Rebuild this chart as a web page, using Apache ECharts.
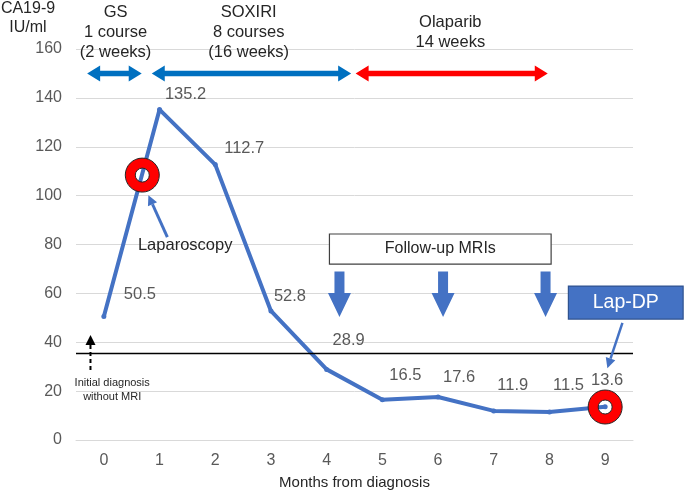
<!DOCTYPE html>
<html>
<head>
<meta charset="utf-8">
<script src="https://cdn.jsdelivr.net/npm/echarts@6/dist/echarts.min.js"></script>
<style>
  html, body { margin: 0; padding: 0; background: #fff; }
  #chart { width: 685px; height: 498px; }
</style>
</head>
<body>
<div id="chart"></div>
<script>
// data
const months = ['0', '1', '2', '3', '4', '5', '6', '7', '8', '9']
const ca199 = [50.5, 135.2, 112.7, 52.8, 28.9, 16.5, 17.6, 11.9, 11.5, 13.6]
const yMin = 0
const yMax = 160
const yStep = 20
const cutoff = 35.5

// treatment periods (month from, month to)
const gsSpan = [-0.3, 0.68]
const soxiriSpan = [0.86, 4.44]
const olaparibSpan = [4.52, 7.97]
const mriMonths = [4.23, 6.09, 7.93]

// label offsets (px) for each data label
const labelOffsets = [[36, -22], [26, -15], [29, -16], [19, -15], [22, -29],
  [23, -24], [21, -20], [19, -25], [19, -26], [2, -26]]

const FONT = '"Liberation Sans", Arial, sans-serif'
const LINE_BLUE = '#4472C4'
const chart = echarts.init(document.getElementById('chart'))

chart.setOption({
  animation: false,
  grid: { left: 76, right: 52, top: 49, bottom: 58 },
  xAxis: {
    type: 'category',
    data: months,
    name: 'Months from diagnosis',
    nameLocation: 'middle',
    nameGap: 35,
    nameTextStyle: { fontFamily: FONT, fontSize: 15, color: '#262626' },
    axisLine: { lineStyle: { color: '#D9D9D9' } },
    axisTick: { show: false },
    axisLabel: { fontFamily: FONT, fontSize: 16, color: '#595959', margin: 13 },
  },
  yAxis: {
    type: 'value',
    min: yMin,
    max: yMax,
    interval: yStep,
    axisLine: { show: false },
    axisTick: { show: false },
    axisLabel: { fontFamily: FONT, fontSize: 16, color: '#595959', margin: 14 },
    splitLine: { lineStyle: { color: '#D9D9D9' } },
  },
  series: [
    {
      type: 'line',
      data: ca199.map((v, i) => ({
        value: v,
        label: { offset: labelOffsets[i] },
      })),
      symbol: 'circle',
      symbolSize: 5,
      lineStyle: { color: LINE_BLUE, width: 4 },
      itemStyle: { color: LINE_BLUE },
      label: {
        show: true,
        position: 'inside',
        fontFamily: FONT,
        fontSize: 16.5,
        color: '#595959',
      },
      markLine: {
        silent: true,
        symbol: 'none',
        label: { show: false },
        lineStyle: { color: '#000', width: 1.3, type: 'solid' },
        data: [{ yAxis: cutoff }],
      },
      z: 3,
    },
  ],
})

// helpers to place annotations in data space
const x0 = chart.convertToPixel({ xAxisIndex: 0 }, '0')
const x9 = chart.convertToPixel({ xAxisIndex: 0 }, '9')
const X = (m) => x0 + (x9 - x0) * m / 9
const Y = (v) => chart.convertToPixel({ yAxisIndex: 0 }, v)

function doubleArrow(span, y, color) {
  const a = X(span[0]), b = X(span[1]), yy = Y(y)
  const t = 2.7, hl = 13, hw = 8
  return {
    type: 'polygon', z: 50,
    shape: { points: [[a, yy], [a + hl, yy - hw], [a + hl, yy - t], [b - hl, yy - t], [b - hl, yy - hw],
      [b, yy], [b - hl, yy + hw], [b - hl, yy + t], [a + hl, yy + t], [a + hl, yy + hw]] },
    style: { fill: color },
  }
}

function blockDown(m, top, tip) {
  const c = X(m), y1 = Y(top), y3 = Y(tip), y2 = y3 - 24
  return {
    type: 'polygon', z: 50,
    shape: { points: [[c - 5, y1], [c + 5, y1], [c + 5, y2], [c + 11.5, y2], [c, y3],
      [c - 11.5, y2], [c - 5, y2]] },
    style: { fill: LINE_BLUE },
  }
}

function thinArrow(from, to, color, width, dashed) {
  const ax = X(from[0]), ay = Y(from[1]), bx = X(to[0]), by = Y(to[1])
  const len = Math.hypot(bx - ax, by - ay)
  const ux = (bx - ax) / len, uy = (by - ay) / len
  const hl = 10, hw = 5
  const baseX = bx - ux * hl, baseY = by - uy * hl
  return [
    {
      type: 'line', z: 50,
      shape: { x1: ax, y1: ay, x2: baseX, y2: baseY },
      style: { stroke: color, lineWidth: width, lineDash: dashed ? [4, 3] : null },
    },
    {
      type: 'polygon', z: 50,
      shape: { points: [[bx, by], [baseX - uy * hw, baseY + ux * hw], [baseX + uy * hw, baseY - ux * hw]] },
      style: { fill: color },
    },
  ]
}

function text(str, x, y, size, color, lineHeight) {
  return {
    type: 'text', z: 60, x: x, y: y,
    style: { text: str, font: size + 'px ' + FONT, fill: color, align: 'center',
      verticalAlign: 'middle', lineHeight: lineHeight || size + 3 },
  }
}

function ring(m, v) {
  return {
    type: 'ring', z: 55,
    shape: { cx: X(m), cy: Y(v), r: 17, r0: 7 },
    style: { fill: '#FF0000', stroke: '#262626', lineWidth: 1 },
  }
}

const graphics = []
// header texts
graphics.push(text('CA19-9\nIU/ml', 28, 18, 16, '#262626', 19))
graphics.push(text('GS\n1 course\n(2 weeks)', X(0.21), 32, 16.5, '#262626', 20))
graphics.push(text('SOXIRI\n8 courses\n(16 weeks)', X(2.6), 32, 16.5, '#262626', 20))
graphics.push(text('Olaparib\n14 weeks', X(6.22), 32, 16.5, '#262626', 20))
// treatment arrows
graphics.push(doubleArrow(gsSpan, 150, '#0070C0'))
graphics.push(doubleArrow(soxiriSpan, 150, '#0070C0'))
graphics.push(doubleArrow(olaparibSpan, 150, '#FF0000'))
// follow-up MRIs
graphics.push({
  type: 'rect', z: 50,
  shape: { x: X(4.05), y: Y(84.3), width: X(8.03) - X(4.05), height: Y(72) - Y(84.3) },
  style: { fill: '#fff', stroke: '#404040', lineWidth: 1.2 },
})
graphics.push(text('Follow-up MRIs', X(6.04), Y(78.2), 16, '#262626'))
mriMonths.forEach((m) => graphics.push(blockDown(m, 69, 50.3)))
// Lap-DP
graphics.push({
  type: 'rect', z: 50,
  shape: { x: X(8.34), y: Y(63), width: X(10.4) - X(8.34), height: Y(49.5) - Y(63) },
  style: { fill: LINE_BLUE, stroke: '#2F528F', lineWidth: 1.2 },
})
graphics.push(text('Lap-DP', X(9.37), Y(56.3), 19.5, '#fff'))
graphics.push(...thinArrow([9.31, 47.9], [9.04, 29.4], LINE_BLUE, 2.5))
// laparoscopy
graphics.push(text('Laparoscopy', X(1.46), Y(79.8), 16.5, '#262626'))
graphics.push(...thinArrow([1.14, 83], [0.8, 100.2], LINE_BLUE, 3))
// initial diagnosis
graphics.push(text('Initial diagnosis\nwithout MRI', X(0.15), Y(20.5), 11, '#262626', 14))
graphics.push(...thinArrow([-0.24, 28.6], [-0.24, 43], '#000', 2, true))
// rings
graphics.push(ring(0.69, 108.4))
graphics.push(ring(9, 13.5))

chart.setOption({ graphic: graphics })
</script>
</body>
</html>
